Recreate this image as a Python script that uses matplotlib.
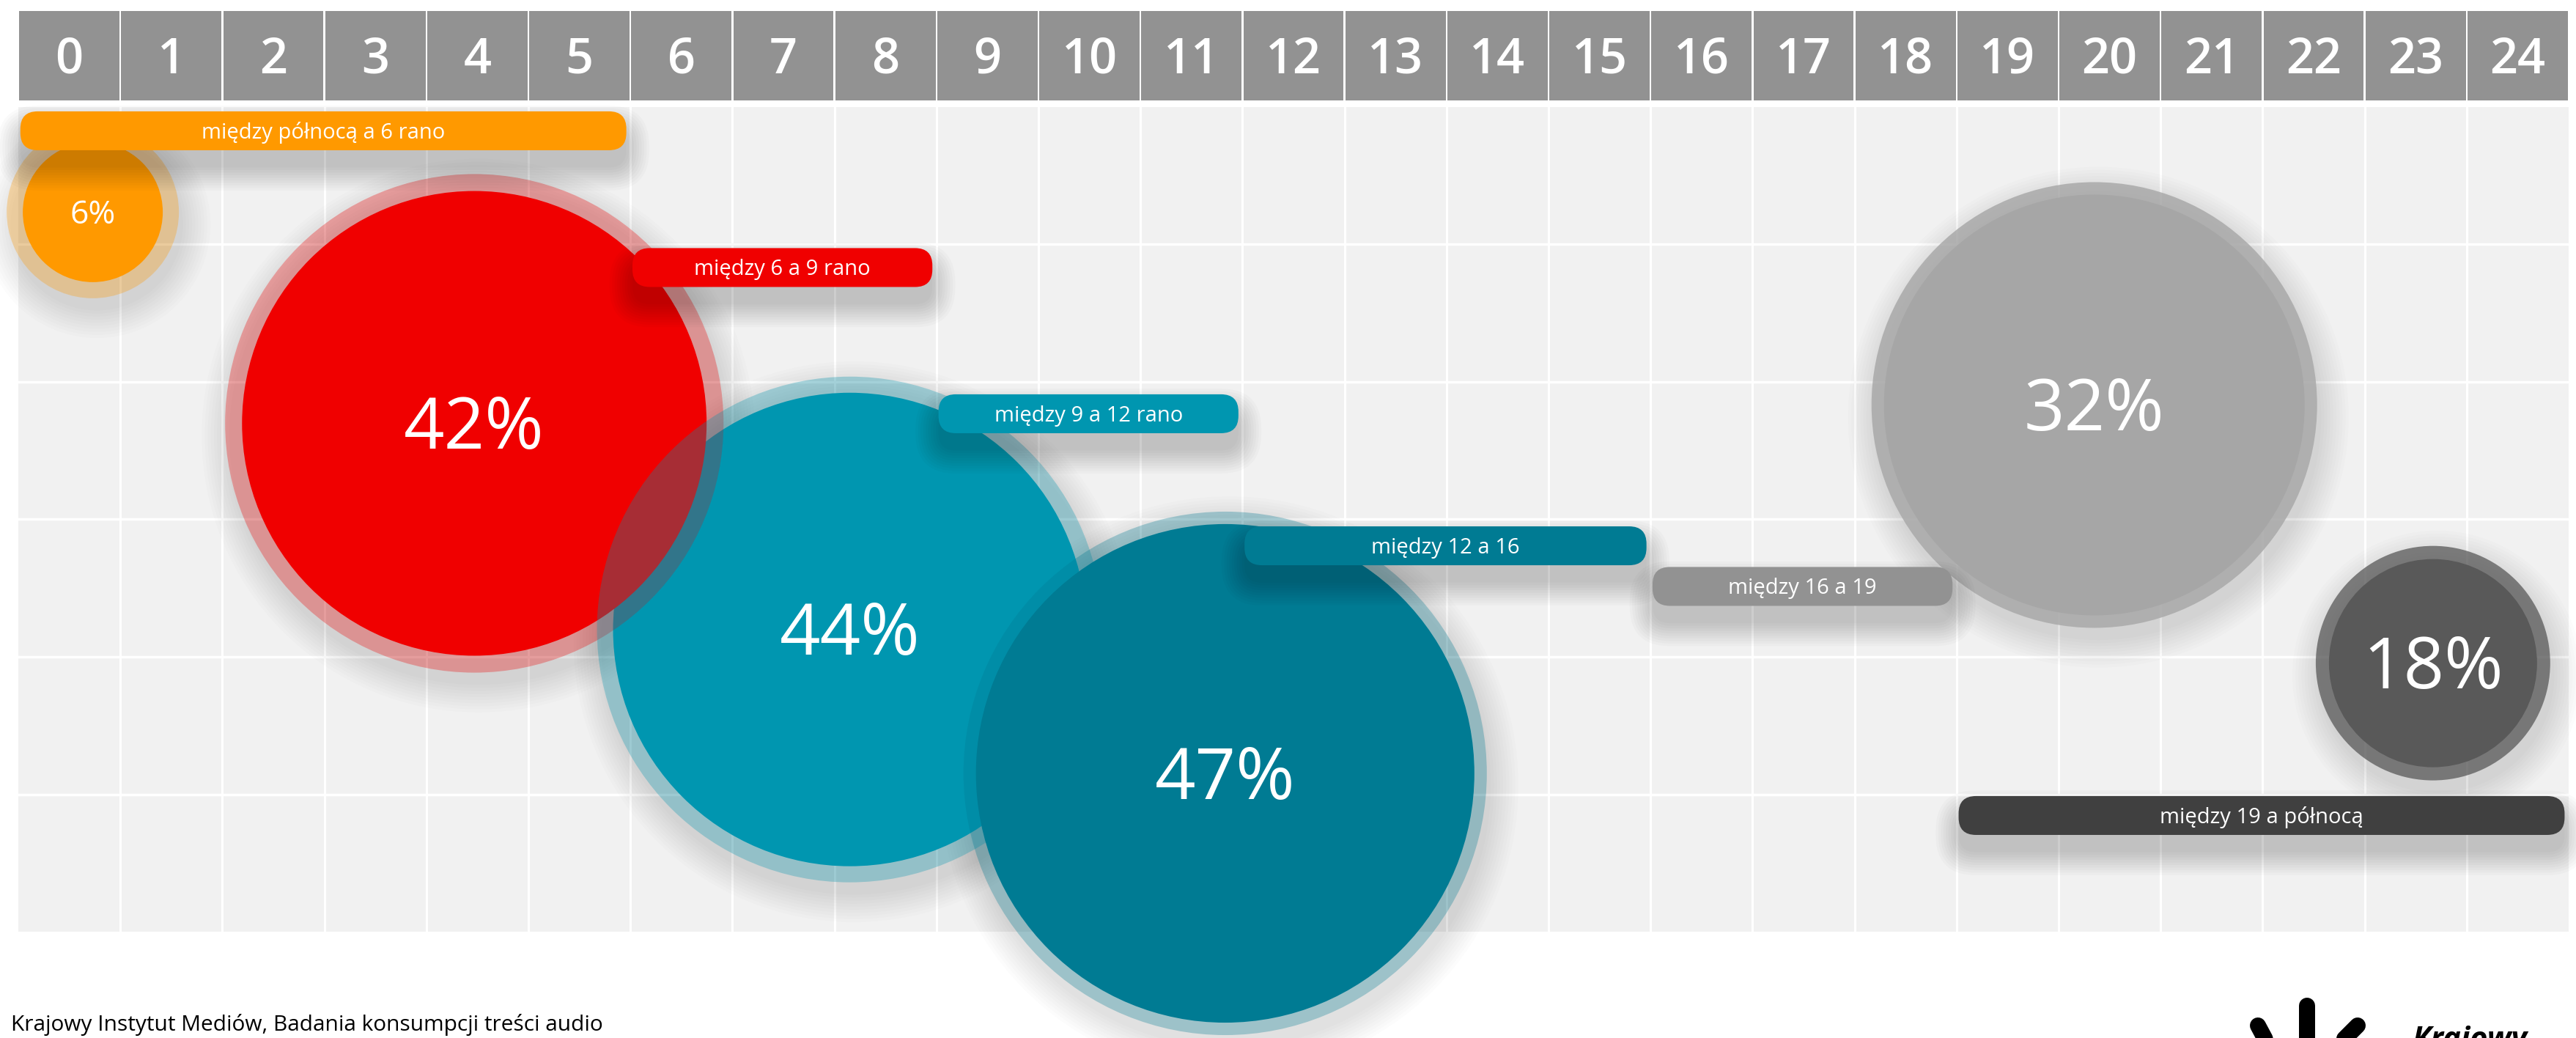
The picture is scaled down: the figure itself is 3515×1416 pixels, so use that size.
import matplotlib
matplotlib.use("Agg")
import matplotlib.pyplot as plt
from matplotlib.patches import Circle, FancyBboxPatch, Rectangle

plt.rcParams['font.family'] = ['Open Sans', 'DejaVu Sans']

# ---- data -------------------------------------------------------------
hours = list(range(25))
hour_labels = [str(h) for h in hours]

slot_labels = ["między północą a 6 rano", "między 6 a 9 rano", "między 9 a 12 rano",
               "między 12 a 16", "między 16 a 19", "między 19 a północą"]
slot_start = [0, 6, 9, 12, 16, 19]
slot_end = [6, 9, 12, 16, 19, 24]
slot_share = [6, 42, 44, 47, 32, 18]   # % of listeners

source = "Krajowy Instytut Mediów, Badania konsumpcji treści audio"

# ---- layout (units = one hour column) ----------------------------------
bubble_x = [0.73, 4.47, 8.15, 11.83, 20.35, 23.67]
bubble_y = [1.03, 3.10, 5.12, 6.53, 2.92, 5.45]
bubble_r = [0.686, 2.277, 2.320, 2.443, 2.062, 1.020]
ring_r = [0.844, 2.443, 2.478, 2.565, 2.184, 1.149]
label_y = [0.233, 1.573, 3.006, 4.300, 4.698, 6.943]
pct_size = [32, 70, 70, 70, 70, 70]

# styles
fill_col = ["#ff9900", "#f00000", "#0096b0", "#007b93", "#a6a6a6", "#595959"]
ring_alpha = [0.3, 0.3, 0.3, 0.3, 0.8, 0.75]
bar_col = ["#ff9900", "#f00000", "#0096b0", "#007b93", "#929292", "#404040"]
inner_z = [2.0, 3.0, 2.5, 5.0, 2.0, 2.0]
halo_z = [2.1, 3.1, 4.0, 5.1, 2.1, 2.1]

W, H, DPI = 3515, 1416, 100
CW = 139.2          # pixels per hour column
LEFT, TOP = 25, 146  # pixel position of grid origin
GRID_H = 1125 / CW
N_ROWS = 6
BAR_H = 0.381


def cap_half(fs):
    # half cap height of the font, in axis units
    return 0.714 * fs / 72 * DPI / 2 / CW


def px(x, y):
    return (x - LEFT) / CW, (y - TOP) / CW


fig = plt.figure(figsize=(W / DPI, H / DPI), dpi=DPI)
ax = fig.add_axes([0, 0, 1, 1])
ax.set_xlim(-LEFT / CW, (W - LEFT) / CW)
ax.set_ylim((H - TOP) / CW, -TOP / CW)
ax.axis('off')

# header with hours
head_top, head_bot = px(0, 15)[1], px(0, 137)[1]
for h, lab in zip(hours, hour_labels):
    ax.add_patch(Rectangle((h + 0.009, head_top), 1 - 0.018, head_bot - head_top,
                           facecolor="#929292", lw=0, zorder=1))
    ax.text(h + 0.5, (head_top + head_bot) / 2 + cap_half(48), lab, color="white",
            fontsize=48, fontweight='semibold', ha='center', va='baseline', zorder=2)

# grid background
ax.add_patch(Rectangle((0, 0), len(hours), GRID_H, facecolor="#f1f1f1", lw=0, zorder=0))
for h in hours[1:]:
    ax.plot([h, h], [0, GRID_H], color="white", lw=2.2, zorder=0.5)
for k in range(1, N_ROWS):
    yy = GRID_H * k / N_ROWS
    ax.plot([0, len(hours)], [yy, yy], color="white", lw=2.5, zorder=0.5)

# bubble shadows
for i in range(len(slot_share)):
    for k in range(10):
        ax.add_patch(Circle((bubble_x[i] + 0.04, bubble_y[i] + 0.12), ring_r[i] + 0.03 * k,
                            facecolor="black", alpha=0.012, lw=0, zorder=1.5))

# bubbles
for i, v in enumerate(slot_share):
    ax.add_patch(Circle((bubble_x[i], bubble_y[i]), bubble_r[i], facecolor=fill_col[i],
                        lw=0, zorder=inner_z[i]))
    ax.add_patch(Circle((bubble_x[i], bubble_y[i]), ring_r[i], facecolor=fill_col[i],
                        alpha=ring_alpha[i], lw=0, zorder=halo_z[i]))
    ax.text(bubble_x[i], bubble_y[i] + cap_half(pct_size[i]), f"{v}%", color="white",
            fontsize=pct_size[i], ha='center', va='baseline', zorder=12)

# time-slot bars
for i, lab in enumerate(slot_labels):
    x0 = slot_start[i] + 0.02
    x1 = (slot_end[i] if slot_end[i] < 24 else len(hours)) - 0.04
    y0 = label_y[i] - BAR_H / 2
    for k in range(10):
        e = 0.025 * k
        ax.add_patch(FancyBboxPatch((x0 - e, y0 + 0.17 - e), x1 - x0 + 2 * e, BAR_H + 2 * e,
                                    boxstyle=f"round,pad=0,rounding_size={0.17 + e}",
                                    facecolor="black", alpha=0.018, lw=0, zorder=9))
    ax.add_patch(FancyBboxPatch((x0, y0), x1 - x0, BAR_H,
                                boxstyle="round,pad=0,rounding_size=0.17",
                                facecolor=bar_col[i], lw=0, zorder=10))
    ax.text((x0 + x1) / 2, label_y[i] + cap_half(21), lab, color="white", fontsize=21,
            ha='center', va='baseline', zorder=11)

# footer
fx, fy = px(15, 1406)
ax.text(fx, fy, source, fontsize=21.5, color="black", ha='left', va='baseline')

# logo (partly cut by the bottom edge, as in the source)
lw_logo = 22 * 72 / DPI
for (xa, ya), (xb, yb) in [((3148, 1372), (3148, 1470)),
                           ((3081, 1399), (3119, 1470)),
                           ((3217, 1399), (3160, 1456))]:
    pa, pb = px(xa, ya), px(xb, yb)
    ax.plot([pa[0], pb[0]], [pa[1], pb[1]], color="black", lw=lw_logo,
            solid_capstyle='round', zorder=3)
lx, ly = px(3292, 1430)
ax.text(lx, ly, "Krajowy", fontsize=30, fontweight='bold', fontstyle='italic',
        color="black", ha='left', va='baseline')

fig.savefig("out.png", dpi=DPI, facecolor="white")
